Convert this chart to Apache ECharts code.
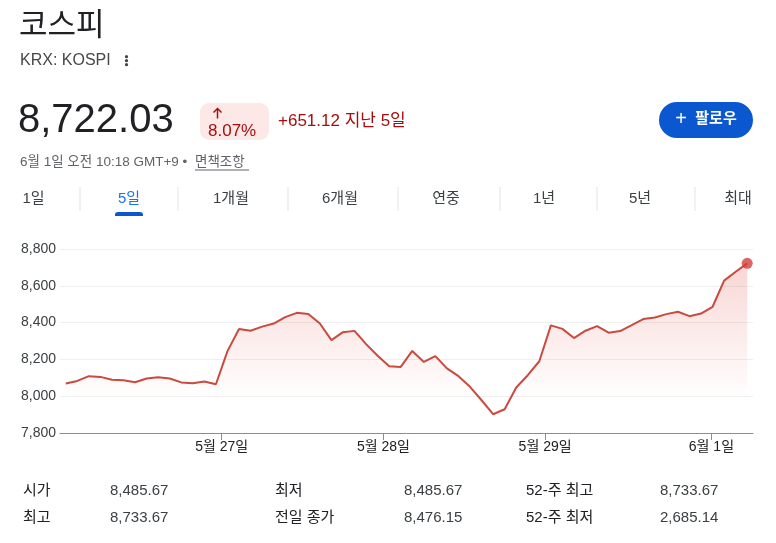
<!DOCTYPE html>
<html>
<head>
<meta charset="utf-8">
<script src="https://cdn.jsdelivr.net/npm/echarts@6/dist/echarts.min.js"></script>
<style>
html,body{margin:0;padding:0;background:#fff;}
#chart{width:776px;height:543px;}
</style>
</head>
<body>
<div id="chart"></div>
<script>
// ---- data ----
var kospiValues = [
  8069, 8083, 8109, 8105, 8089, 8087, 8076, 8096, 8103, 8096, 8075, 8071, 8080, 8065,
  8245, 8365, 8356, 8378, 8395, 8430, 8453, 8447, 8395, 8305, 8348, 8355, 8283, 8220,
  8163, 8159, 8246, 8186, 8218, 8151, 8109, 8051, 7978, 7902, 7929, 8047, 8114, 8190,
  8385, 8366, 8316, 8356, 8381, 8345, 8354, 8386, 8419, 8428, 8446, 8459, 8435, 8449,
  8486, 8628, 8676, 8722
];
var dayLabels = ['5월 27일', '5월 28일', '5월 29일', '6월 1일'];
var dayBreaks = [13.5, 27.5, 41.5, 55.9];
var yTicks = [7800, 8000, 8200, 8400, 8600, 8800];
var tabLabels = ['1일', '5일', '1개월', '6개월', '연중', '1년', '5년', '최대'];
var statLabels = [['시가', '최고'], ['최저', '전일 종가'], ['52-주 최고', '52-주 최저']];
var statValues = [['8,485.67', '8,733.67'], ['8,485.67', '8,476.15'], ['8,733.67', '2,685.14']];
var priceText = '8,722.03';
var changePct = '8.07%';
var changeText = '+651.12 지난 5일';

// ---- build ----
var FF = "Arial, 'Liberation Sans', 'Noto Sans CJK KR', sans-serif";
var lineData = kospiValues.map(function (v, i) { return [i, v]; });
var lastIdx = kospiValues.length - 1;

function txt(x, y, text, size, color, opts) {
  opts = opts || {};
  return {
    type: 'text', x: x, y: y, silent: true,
    style: {
      text: text, fill: color, fontSize: size, fontFamily: FF,
      fontWeight: opts.weight || 'normal',
      align: opts.align || 'left', verticalAlign: 'middle'
    }
  };
}

var graphics = [];
graphics.push(txt(19, 26, '코스피', 31, '#202124'));
graphics.push(txt(20, 61, 'KRX: KOSPI', 16, '#474747'));
[56.7, 60.7, 64.7].forEach(function (cy) {
  graphics.push({ type: 'circle', shape: { cx: 126.5, cy: cy, r: 1.6 }, style: { fill: '#444' }, silent: true });
});
graphics.push(txt(18, 121, priceText, 40, '#202124'));
graphics.push({ type: 'rect', shape: { x: 200, y: 103, width: 69, height: 37, r: 9 }, style: { fill: '#fce8e6' }, silent: true });
graphics.push({ type: 'polyline', shape: { points: [[213.5, 112.5], [217.5, 108.5], [221.5, 112.5]] }, style: { stroke: '#a50e0e', lineWidth: 1.5, fill: null }, silent: true });
graphics.push({ type: 'line', shape: { x1: 217.5, y1: 109, x2: 217.5, y2: 118.5 }, style: { stroke: '#a50e0e', lineWidth: 1.5 }, silent: true });
graphics.push(txt(208, 131, changePct, 17, '#a50e0e'));
graphics.push(txt(278, 121, changeText, 17, '#a50e0e'));
graphics.push({ type: 'rect', shape: { x: 659, y: 102, width: 94, height: 36, r: 18 }, style: { fill: '#0b57d0' }, silent: true });
graphics.push(txt(681, 119, '+', 20, '#ffffff', { align: 'center' }));
graphics.push(txt(716, 119, '팔로우', 15, '#ffffff', { align: 'center', weight: 'bold' }));
graphics.push(txt(20, 162, '6월 1일 오전 10:18 GMT+9 •', 13.5, '#5f6368'));
graphics.push(txt(195, 162, '면책조항', 13.5, '#5f6368'));
graphics.push({ type: 'line', shape: { x1: 195, y1: 170, x2: 249, y2: 170 }, style: { stroke: '#5f6368', lineWidth: 1 }, silent: true });

var tabCenters = [33.5, 129, 231, 340, 446, 544, 640, 738];
var tabSeps = [80, 178, 288, 398, 500, 597, 695];
tabLabels.forEach(function (t, i) {
  graphics.push(txt(tabCenters[i], 199, t, 15, i === 1 ? '#1a73e8' : '#3c4043', { align: 'center' }));
});
tabSeps.forEach(function (sx) {
  graphics.push({ type: 'line', shape: { x1: sx, y1: 187, x2: sx, y2: 211 }, style: { stroke: '#e3e3e3', lineWidth: 1 }, silent: true });
});
graphics.push({ type: 'rect', shape: { x: 115, y: 212, width: 28, height: 4, r: [3, 3, 0, 0] }, style: { fill: '#0b57d0' }, silent: true });

var colLabelX = [23, 275, 526];
var colValueX = [110, 404, 660];
var rowY = [491, 518];
for (var c = 0; c < 3; c++) {
  for (var r = 0; r < 2; r++) {
    graphics.push(txt(colLabelX[c], rowY[r], statLabels[c][r], 15, '#202124'));
    graphics.push(txt(colValueX[c], rowY[r], statValues[c][r], 15, '#3c4043'));
  }
}

var chart = echarts.init(document.getElementById('chart'), null, { renderer: 'canvas' });
chart.setOption({
  animation: false,
  backgroundColor: '#ffffff',
  grid: { left: 60, right: 23, top: 249, bottom: 110 },
  xAxis: {
    type: 'value', min: -0.5, max: lastIdx + 0.5,
    splitLine: { show: false },
    axisLine: { show: true, lineStyle: { color: '#8a8d91', width: 1 } },
    axisTick: { show: true, customValues: dayBreaks, length: 7, lineStyle: { color: '#8a8d91' } },
    axisLabel: {
      show: true, customValues: dayBreaks, margin: 7,
      color: '#202124', fontSize: 14, fontFamily: FF,
      formatter: function (v) {
        var k = dayBreaks.indexOf(v);
        return k >= 0 ? dayLabels[k] : '';
      }
    }
  },
  yAxis: {
    type: 'value', min: yTicks[0], max: yTicks[yTicks.length - 1], interval: 200,
    axisLine: { show: false }, axisTick: { show: false },
    splitLine: { show: true, lineStyle: { color: '#efefef', width: 1 } },
    axisLabel: {
      margin: 4, color: '#3c4043', fontSize: 14, fontFamily: FF,
      formatter: function (v) { return v.toLocaleString('en-US'); }
    }
  },
  series: [
    {
      type: 'line', data: lineData, showSymbol: false, symbol: 'none',
      lineStyle: { color: '#c94a3e', width: 2 },
      areaStyle: {
        color: new echarts.graphic.LinearGradient(0, 0, 0, 1, [
          { offset: 0, color: 'rgba(217,48,37,0.28)' },
          { offset: 0.8, color: 'rgba(217,48,37,0.0)' },
          { offset: 1, color: 'rgba(217,48,37,0.0)' }
        ])
      },
      z: 2
    },
    {
      type: 'scatter', data: [[lastIdx, kospiValues[lastIdx]]],
      symbolSize: 11, itemStyle: { color: '#d6403a' }, z: 3
    }
  ],
  graphic: graphics
});
</script>
</body>
</html>
